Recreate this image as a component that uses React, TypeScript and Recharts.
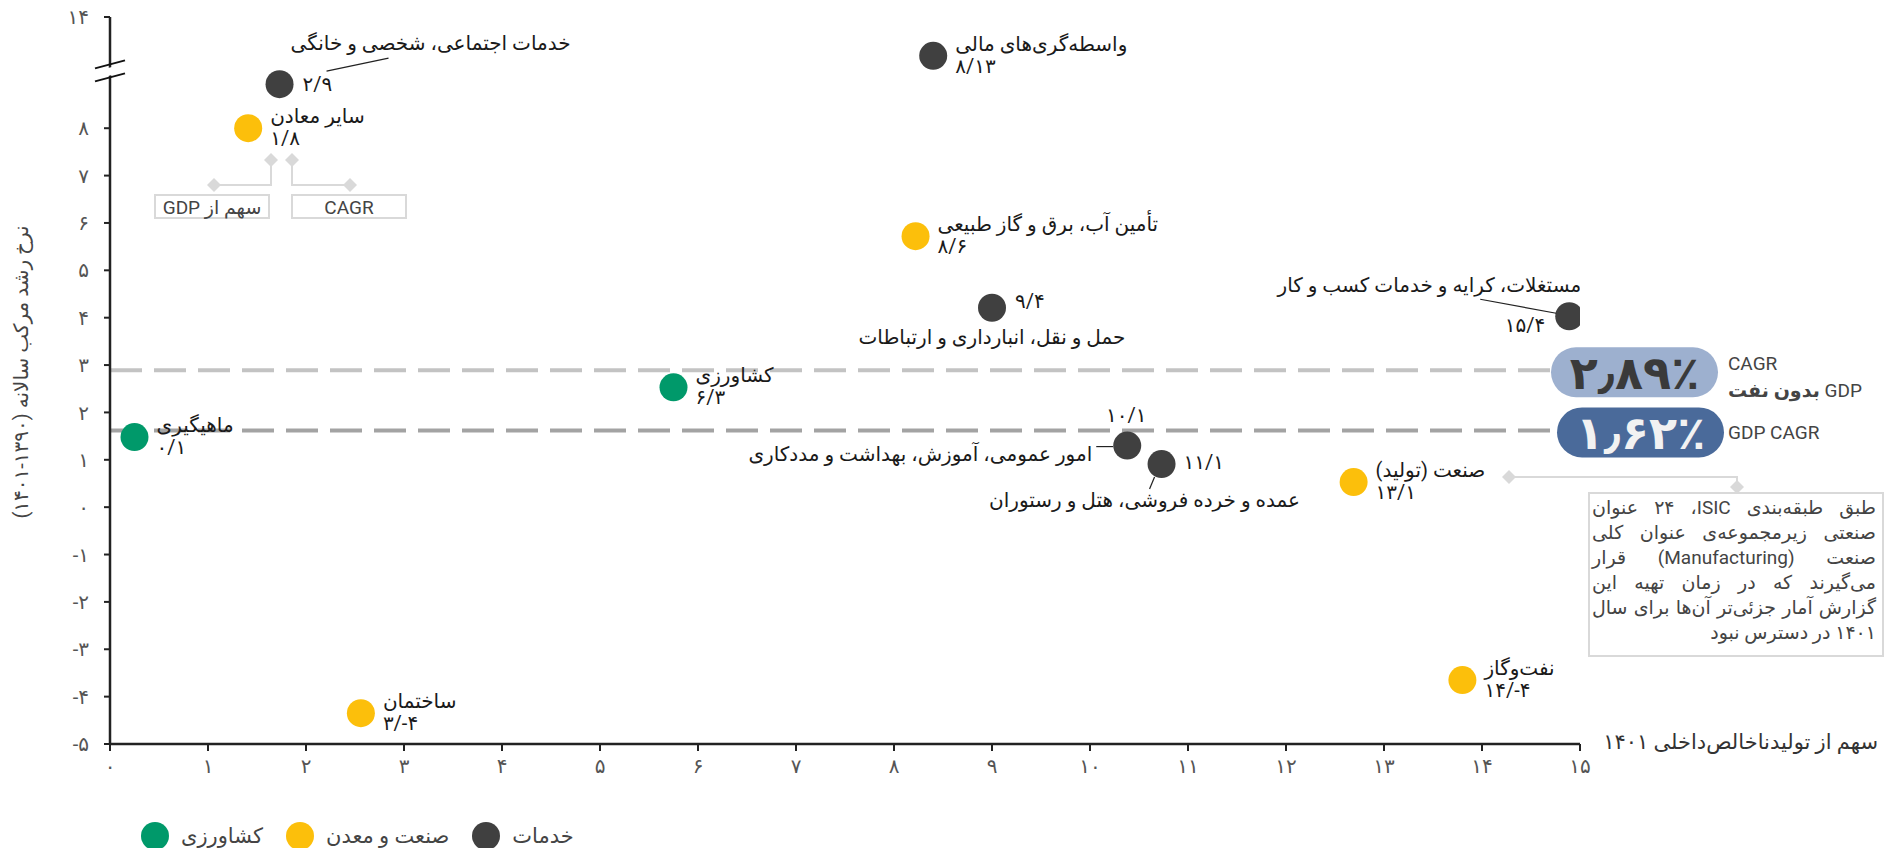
import React from "react";
import {
  ScatterChart,
  Scatter,
  XAxis,
  YAxis,
  ReferenceLine,
  ReferenceDot,
  Legend,
} from "recharts";

const FONT = "Roboto, 'DejaVu Sans', sans-serif";

// sectors, share of GDP 1401 (x) and CAGR 1390-1401 (y)
const SECTORS = [
  "ماهیگیری",
  "کشاورزی",
  "ساختمان",
  "نفت‌وگاز",
  "صنعت (تولید)",
  "سایر معادن",
  "تأمین آب، برق و گاز طبیعی",
  "خدمات اجتماعی، شخصی و خانگی",
  "واسطه‌گری‌های مالی",
  "حمل و نقل، انبارداری و ارتباطات",
  "مستغلات، کرایه و خدمات کسب و کار",
  "امور عمومی، آموزش، بهداشت و مددکاری",
  "عمده و خرده فروشی، هتل و رستوران",
];
const GDP_SHARE = [0.25, 5.75, 2.56, 13.8, 12.69, 1.41, 8.22, 1.73, 8.4, 9.0, 14.89, 10.38, 10.73];
const CAGR = [1.48, 2.53, -4.35, -3.65, 0.53, 8.0, 5.72, 8.93, 13.0, 4.21, 4.03, 1.3, 0.91];
const SECTOR_GROUP = [0, 0, 1, 1, 1, 1, 1, 2, 2, 2, 2, 2, 2];

const GROUPS = ["کشاورزی", "صنعت و معدن", "خدمات"];
const GROUP_COLORS = ["#00996a", "#fcbf0b", "#404040"];

const GDP_CAGR = 1.62;
const GDP_CAGR_NON_OIL = 2.89;

const X_TICKS = [0, 1, 2, 3, 4, 5, 6, 7, 8, 9, 10, 11, 12, 13, 14, 15];
const Y_TICKS = [-5, -4, -3, -2, -1, 0, 1, 2, 3, 4, 5, 6, 7, 8, 14];

const NOTE_LINES = [
  "طبق طبقه‌بندی ISIC،\u200F ۲۴ عنوان",
  "صنعتی زیرمجموعه‌ی عنوان کلی",
  "صنعت (Manufacturing) قرار",
  "می‌گیرند که در زمان تهیه این",
  "گزارش آمار جزئی‌تر آن‌ها برای سال",
  "۱۴۰۱ در دسترس نبود",
];

// broken y axis: values above BREAK_HIGH are squeezed in above BREAK_LOW
const BREAK_LOW = 9.2;
const BREAK_HIGH = 12.6;
const UPPER_SCALE = 0.82;
const toDisplay = (v: number) => (v >= BREAK_HIGH ? BREAK_LOW + (v - BREAK_HIGH) * UPPER_SCALE : v);
const fromDisplay = (d: number) => (d > BREAK_LOW ? BREAK_HIGH + (d - BREAK_LOW) / UPPER_SCALE : d);

const fa = (v: number | string) => String(v).replace(/\d/g, (d) => "۰۱۲۳۴۵۶۷۸۹"[+d]);
const pct = (v: number) => fa(v.toFixed(2)).replace(".", "٫") + "٪";

// plot geometry (used for margins and for the fixed annotations)
const W = 1898;
const H = 848;
const PLOT = { left: 110, top: 17, right: 1580, bottom: 744 };
const Y_MAX = toDisplay(14);
const yPx = (d: number) => PLOT.top + ((Y_MAX - d) / (Y_MAX + 5)) * (PLOT.bottom - PLOT.top);

const LABEL_LAYOUT: Record<string, string> = {
  "خدمات اجتماعی، شخصی و خانگی": "above",
  "حمل و نقل، انبارداری و ارتباطات": "below",
  "مستغلات، کرایه و خدمات کسب و کار": "leftAbove",
  "امور عمومی، آموزش، بهداشت و مددکاری": "left",
  "عمده و خرده فروشی، هتل و رستوران": "belowTrade",
};

const txt = { fontSize: 20, fill: "#1a1a1a", fontFamily: FONT } as const;

function SectorDot(props: any) {
  const { cx, cy, payload } = props;
  const num = `${fa(Math.round(payload.share))}/${fa(Math.round(payload.cagr))}`;
  const layout = LABEL_LAYOUT[payload.name] || "right";
  let labels: React.ReactNode;
  if (layout === "above") {
    labels = (
      <g>
        <line x1={cx + 47} y1={cy - 13} x2={cx + 109} y2={cy - 26} stroke="#222" strokeWidth={1.2} />
        <text x={cx + 11} y={cy - 41} {...txt} dominantBaseline="central">{payload.name}</text>
        <text x={cx + 23} y={cy} {...txt} dominantBaseline="central">{num}</text>
      </g>
    );
  } else if (layout === "below") {
    labels = (
      <g>
        <text x={cx + 23} y={cy - 7} {...txt} dominantBaseline="central">{num}</text>
        <text x={cx} y={cy + 29} {...txt} textAnchor="middle" dominantBaseline="central">{payload.name}</text>
      </g>
    );
  } else if (layout === "leftAbove") {
    labels = (
      <g>
        <line x1={cx - 89} y1={cy - 17} x2={cx - 13} y2={cy - 3} stroke="#222" strokeWidth={1.2} />
        <text x={cx + 12} y={cy - 31} {...txt} textAnchor="end" dominantBaseline="central">{payload.name}</text>
        <text x={cx - 24} y={cy + 9} {...txt} textAnchor="end" dominantBaseline="central">{num}</text>
      </g>
    );
  } else if (layout === "left") {
    labels = (
      <g>
        <line x1={cx - 31} y1={cy + 1} x2={cx - 14} y2={cy + 1} stroke="#222" strokeWidth={1.2} />
        <text x={cx - 1} y={cy - 31} {...txt} textAnchor="middle" dominantBaseline="central">{num}</text>
        <text x={cx - 35} y={cy + 8} {...txt} textAnchor="end" dominantBaseline="central">{payload.name}</text>
      </g>
    );
  } else if (layout === "belowTrade") {
    labels = (
      <g>
        <line x1={cx - 7} y1={cy + 13} x2={cx - 12} y2={cy + 25} stroke="#222" strokeWidth={1.2} />
        <text x={cx + 22} y={cy - 2} {...txt} dominantBaseline="central">{num}</text>
        <text x={cx - 17} y={cy + 36} {...txt} textAnchor="middle" dominantBaseline="central">{payload.name}</text>
      </g>
    );
  } else {
    labels = (
      <g>
        <text x={cx + 22} y={cy - 12} {...txt} dominantBaseline="central">{payload.name}</text>
        <text x={cx + 22} y={cy + 10} {...txt} dominantBaseline="central">{num}</text>
      </g>
    );
  }
  return (
    <g>
      <circle cx={cx} cy={cy} r={14} fill={payload.color} />
      {labels}
    </g>
  );
}

function Pill({ cx, cy, value, dark }: any) {
  const x0 = dark ? cx - 23 : cx - 29;
  const w = 167;
  return (
    <g>
      <rect x={x0} y={cy - 23} width={w} height={50} rx={25} fill={dark ? "#4a6a9a" : "#9db0cf"} />
      <text
        x={x0 + w / 2}
        y={cy + 3}
        textAnchor="middle"
        dominantBaseline="central"
        fontSize={46}
        fontWeight="bold"
        fill={dark ? "#f2f2f2" : "#3a3a3a"}
        fontFamily={FONT}
      >
        {pct(value)}
      </text>
      {dark ? (
        <text x={cx + 148} y={cy + 2} fontSize={19} fill="#444" dominantBaseline="central" fontFamily={FONT}>
          GDP CAGR
        </text>
      ) : (
        <g>
          <text x={cx + 148} y={cy - 7} fontSize={19} fill="#444" dominantBaseline="central" fontFamily={FONT}>
            CAGR
          </text>
          <text x={cx + 148} y={cy + 20} fontSize={19} fill="#444" dominantBaseline="central" fontFamily={FONT}>
            <tspan fontWeight="bold">بدون نفت</tspan>
            <tspan> GDP</tspan>
          </text>
        </g>
      )}
    </g>
  );
}

const Diamond = ({ x, y }: { x: number; y: number }) => (
  <polygon points={`${x},${y - 7} ${x + 7},${y} ${x},${y + 7} ${x - 7},${y}`} fill="#d9d9d9" />
);

function renderLegend() {
  return (
    <div style={{ display: "flex", alignItems: "center", fontFamily: FONT, fontSize: 21, color: "#444" }}>
      {GROUPS.map((g, i) => (
        <span key={g} style={{ display: "flex", alignItems: "center", marginRight: 23 }}>
          <span
            style={{
              display: "inline-block",
              width: 28,
              height: 28,
              borderRadius: 14,
              background: GROUP_COLORS[i],
              marginRight: 12,
            }}
          />
          {g}
        </span>
      ))}
    </div>
  );
}

export default function App() {
  const points = SECTORS.map((name, i) => ({
    name,
    share: GDP_SHARE[i],
    cagr: CAGR[i],
    x: GDP_SHARE[i],
    y: toDisplay(CAGR[i]),
    group: SECTOR_GROUP[i],
    color: GROUP_COLORS[SECTOR_GROUP[i]],
  }));
  const breakY = yPx(BREAK_LOW);

  return (
    <div
      style={{
        position: "absolute",
        left: 0,
        top: 0,
        width: W,
        height: H,
        overflow: "hidden",
        background: "#fff",
        fontFamily: FONT,
      }}
    >
      <ScatterChart
        width={W}
        height={H}
        margin={{ top: PLOT.top, right: W - PLOT.right, bottom: H - PLOT.bottom - 30, left: 0 }}
      >
        <XAxis
          type="number"
          dataKey="x"
          domain={[0, 15]}
          ticks={X_TICKS}
          allowDataOverflow
          height={30}
          tickFormatter={(v) => fa(v)}
          tick={{ fontSize: 20, fill: "#555" }}
          tickSize={7}
          tickMargin={8}
          tickLine={{ stroke: "#222", strokeWidth: 2 }}
          axisLine={{ stroke: "#222", strokeWidth: 2.5 }}
        />
        <YAxis
          type="number"
          dataKey="y"
          domain={[-5, Y_MAX]}
          ticks={Y_TICKS.map(toDisplay)}
          allowDataOverflow
          width={PLOT.left}
          tickFormatter={(v) => fa(Math.round(fromDisplay(v)))}
          tick={{ fontSize: 20, fill: "#555" }}
          tickSize={6}
          tickMargin={15}
          tickLine={{ stroke: "#222", strokeWidth: 2 }}
          axisLine={{ stroke: "#222", strokeWidth: 2.5 }}
        />
        {GROUPS.map((g, gi) => (
          <Scatter
            key={g}
            name={g}
            data={points.filter((p) => p.group === gi)}
            fill={GROUP_COLORS[gi]}
            shape={SectorDot}
            isAnimationActive={false}
          />
        ))}
        <ReferenceLine y={GDP_CAGR_NON_OIL} stroke="#c3c3c3" strokeWidth={4} strokeDasharray="32 12" />
        <ReferenceLine y={GDP_CAGR} stroke="#a3a3a3" strokeWidth={4} strokeDasharray="32 12" />
        <ReferenceDot
          x={15}
          y={GDP_CAGR_NON_OIL}
          ifOverflow="visible"
          shape={(p: any) => <Pill cx={p.cx} cy={p.cy} value={GDP_CAGR_NON_OIL} />}
        />
        <ReferenceDot
          x={15}
          y={GDP_CAGR}
          ifOverflow="visible"
          shape={(p: any) => <Pill cx={p.cx} cy={p.cy} value={GDP_CAGR} dark />}
        />
        <Legend
          layout="horizontal"
          verticalAlign="middle"
          align="center"
          wrapperStyle={{ top: 822, left: 141, width: 600, height: 28 }}
          content={renderLegend}
        />
      </ScatterChart>

      <svg
        width={W}
        height={H}
        style={{ position: "absolute", left: 0, top: 0, pointerEvents: "none", fontFamily: FONT }}
      >
        {/* axis break */}
        <polygon
          points={`${PLOT.left - 4},${breakY - 3} ${PLOT.left + 4},${breakY - 5} ${PLOT.left + 4},${breakY + 3} ${PLOT.left - 4},${breakY + 5}`}
          fill="#fff"
        />
        <line x1={95} y1={breakY - 3} x2={125} y2={breakY - 11} stroke="#111" strokeWidth={2} />
        <line x1={95} y1={breakY + 10} x2={125} y2={breakY + 2} stroke="#111" strokeWidth={2} />

        {/* axis titles */}
        <text
          x={21}
          y={372}
          transform="rotate(-90 21 372)"
          textAnchor="middle"
          dominantBaseline="central"
          fontSize={20}
          fill="#444"
        >
          نرخ رشد مرکب سالانه (۱۳۹۰-۱۴۰۱)
        </text>
        <text x={1878} y={742} textAnchor="end" dominantBaseline="central" fontSize={21} fill="#333">
          سهم از تولیدناخالص‌داخلی ۱۴۰۱
        </text>

        {/* key for the label numbers */}
        <g stroke="#d9d9d9" strokeWidth={2} fill="none">
          <polyline points="271,160 271,185 214,185" />
          <polyline points="292,160 292,185 350,185" />
          <rect x={155} y={195} width={114} height={23} />
          <rect x={292} y={195} width={114} height={23} />
        </g>
        <Diamond x={271} y={160} />
        <Diamond x={292} y={160} />
        <Diamond x={214} y={185} />
        <Diamond x={350} y={185} />
        <text x={212} y={207} textAnchor="middle" dominantBaseline="central" fontSize={19} fill="#444">
          GDP سهم از
        </text>
        <text x={349} y={207} textAnchor="middle" dominantBaseline="central" fontSize={19} fill="#444">
          CAGR
        </text>

        {/* manufacturing note connector */}
        <polyline points="1509,477 1737,477 1737,487" stroke="#d9d9d9" strokeWidth={2} fill="none" />
        <Diamond x={1509} y={477} />
        <Diamond x={1737} y={487} />
      </svg>

      <div
        style={{
          position: "absolute",
          left: 1588,
          top: 492,
          width: 296,
          height: 165,
          boxSizing: "border-box",
          border: "2px solid #d9d9d9",
          padding: "1px 6px 0 2px",
          direction: "rtl",
          fontFamily: FONT,
          fontSize: 19,
          lineHeight: "25px",
          color: "#444",
        }}
      >
        {NOTE_LINES.map((line, i) => {
          const last = i === NOTE_LINES.length - 1;
          return (
            <div
              key={i}
              style={{
                whiteSpace: "nowrap",
                textAlign: last ? "right" : "justify",
                textAlignLast: last ? "right" : "justify",
              }}
            >
              {line}
            </div>
          );
        })}
      </div>
    </div>
  );
}
